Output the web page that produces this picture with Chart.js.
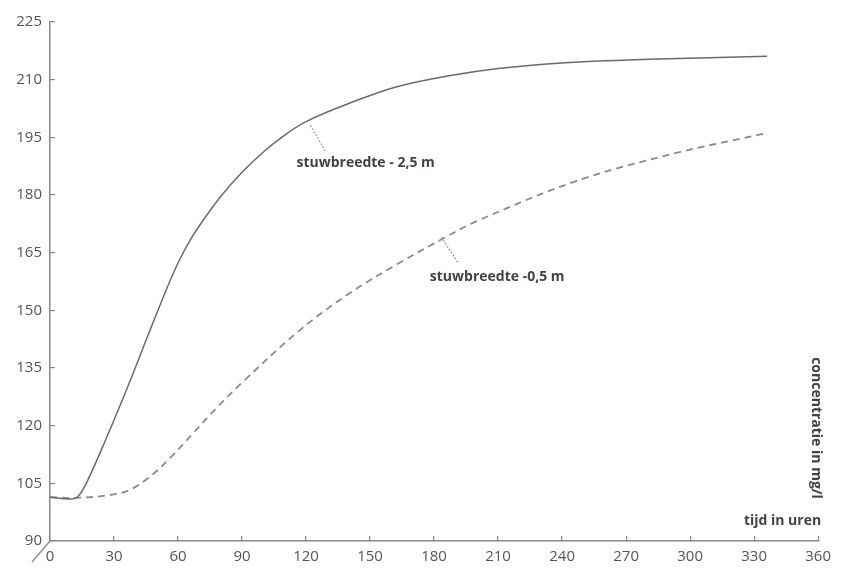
<!DOCTYPE html>
<html>
<head>
<meta charset="utf-8">
<script src="https://cdn.jsdelivr.net/npm/chart.js@4/dist/chart.umd.min.js"></script>
<style>
  html, body { margin: 0; padding: 0; background: #fff; }
  #wrap { width: 843px; height: 569px; }
</style>
</head>
<body>
<div id="wrap"><canvas id="grafiek" width="843" height="569"></canvas></div>
<script>
// tijd (uren) en concentratie (mg/l) voor beide stuwbreedtes
const tijdBreed = [0, 10, 13, 17, 26, 37, 47, 55, 60, 65, 70, 80, 90, 100, 110, 120, 140, 163, 187, 210, 238, 281, 336];
const concBreed = [101.4, 100.9, 101.5, 105.0, 116.2, 130.9, 145.0, 156.0, 162.3, 167.6, 172.0, 179.6, 185.9, 191.2, 195.6, 199.1, 203.8, 208.2, 211.0, 212.9, 214.3, 215.3, 216.1];

const tijdSmal = [0, 11, 26, 37, 47, 57, 67, 78, 90, 117, 140, 163, 184, 200, 247, 294, 336];
const concSmal = [101.4, 101.2, 101.8, 103.2, 106.8, 112.0, 118.0, 124.6, 131.2, 144.8, 154.3, 162.1, 168.6, 173.2, 183.7, 191.0, 196.1];

const xTicks = [0, 30, 60, 90, 120, 150, 180, 210, 240, 270, 300, 330, 360];
const yTicks = [90, 105, 120, 135, 150, 165, 180, 195, 210, 225];

const labelBreed = 'stuwbreedte - 2,5 m';
const labelSmal = 'stuwbreedte -0,5 m';
const xTitel = 'tijd in uren';
const yTitel = 'concentratie in mg/l';

const punten = (xs, ys) => xs.map((x, i) => ({ x: x, y: ys[i] }));

const tekstKleur = '#464242';
const asKleur = '#8c8888';

// bijschriften met stippellijntje naar de curve (in data-coordinaten)
const bijschriften = [
  { tekst: labelBreed, van: [122, 198.1], naar: [129, 191.5], tekstPos: [115.5, 188.4] },
  { tekst: labelSmal, van: [183.5, 169.0], naar: [191.5, 162.1], tekstPos: [178, 158.6] }
];

const extras = {
  id: 'extras',
  afterDraw(chart) {
    const ctx = chart.ctx;
    const xs = chart.scales.x, ys = chart.scales.y;
    const area = chart.chartArea;
    ctx.save();

    // schuine streep bij de oorsprong (as begint niet bij nul)
    ctx.strokeStyle = asKleur;
    ctx.lineWidth = 1.3;
    ctx.beginPath();
    ctx.moveTo(area.left, area.bottom);
    ctx.lineTo(area.left - 18, area.bottom + 21);
    ctx.stroke();

    // bijschriften
    bijschriften.forEach(b => {
      ctx.strokeStyle = '#8a8686';
      ctx.lineWidth = 1.2;
      ctx.setLineDash([1.5, 2]);
      ctx.beginPath();
      ctx.moveTo(xs.getPixelForValue(b.van[0]), ys.getPixelForValue(b.van[1]));
      ctx.lineTo(xs.getPixelForValue(b.naar[0]), ys.getPixelForValue(b.naar[1]));
      ctx.stroke();
      ctx.setLineDash([]);
      ctx.fillStyle = tekstKleur;
      ctx.font = 'bold 14px "Open Sans"';
      ctx.textAlign = 'left';
      ctx.textBaseline = 'middle';
      ctx.fillText(b.tekst, xs.getPixelForValue(b.tekstPos[0]), ys.getPixelForValue(b.tekstPos[1]));
    });

    // astitels
    ctx.fillStyle = tekstKleur;
    ctx.font = 'bold 14px "Open Sans"';
    ctx.textAlign = 'right';
    ctx.textBaseline = 'alphabetic';
    ctx.fillText(xTitel, area.right + 3, area.bottom - 16);

    ctx.translate(area.right - 6, area.bottom - 113);
    ctx.rotate(Math.PI / 2);
    ctx.textAlign = 'center';
    ctx.textBaseline = 'alphabetic';
    ctx.fillText(yTitel, 0, 0);
    ctx.restore();
  }
};

new Chart(document.getElementById('grafiek'), {
  type: 'line',
  data: {
    datasets: [
      {
        label: labelBreed,
        data: punten(tijdBreed, concBreed),
        borderColor: '#6e6a6a',
        borderWidth: 1.5,
        pointRadius: 0,
        fill: false,
        tension: 0.35
      },
      {
        label: labelSmal,
        data: punten(tijdSmal, concSmal),
        borderColor: '#8e8a8a',
        borderWidth: 1.8,
        borderDash: [7, 5],
        pointRadius: 0,
        fill: false,
        tension: 0.35
      }
    ]
  },
  options: {
    responsive: false,
    animation: false,
    layout: { padding: { top: 21, right: 21, left: 0, bottom: 0 } },
    plugins: {
      legend: { display: false },
      tooltip: { enabled: false }
    },
    scales: {
      x: {
        type: 'linear',
        min: 0,
        max: 360,
        afterBuildTicks: s => { s.ticks = xTicks.map(v => ({ value: v })); },
        afterFit: s => { s.height = 28; },
        grid: { drawOnChartArea: false, tickLength: -5, color: asKleur, lineWidth: 1.2 },
        border: { color: asKleur, width: 1.5 },
        ticks: { padding: 12, color: '#555', font: { family: 'Open Sans', size: 15 } }
      },
      y: {
        min: 90,
        max: 225,
        afterBuildTicks: s => { s.ticks = yTicks.map(v => ({ value: v })); },
        afterFit: s => { s.width = 50; },
        grid: { drawOnChartArea: false, tickLength: -5, color: asKleur, lineWidth: 1.2 },
        border: { color: asKleur, width: 1.5 },
        ticks: { padding: 13, color: '#555', font: { family: 'Open Sans', size: 15 } }
      }
    }
  },
  plugins: [extras]
});
</script>
</body>
</html>
